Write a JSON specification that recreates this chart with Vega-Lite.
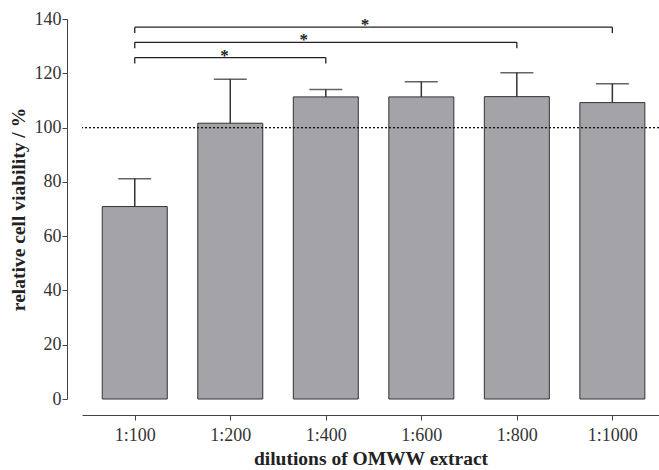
{
  "$schema": "https://vega.github.io/schema/vega-lite/v6.json",
  "autosize": {"type": "none"},
  "padding": {"left": 82, "top": 19, "right": 0, "bottom": 71},
  "width": 577,
  "height": 380,
  "background": "white",
  "config": {
    "view": {"stroke": null},
    "font": "Liberation Serif",
    "axis": {
      "labelFont": "Liberation Serif",
      "titleFont": "Liberation Serif",
      "labelColor": "#333",
      "titleColor": "#222",
      "domainColor": "#444",
      "tickColor": "#444",
      "grid": false
    }
  },
  "datasets": {
    "bars": [
      {"idx": 1, "dilution": "1:100", "mean": 70.9, "upper": 81.1},
      {"idx": 2, "dilution": "1:200", "mean": 101.6, "upper": 117.8},
      {"idx": 3, "dilution": "1:400", "mean": 111.3, "upper": 114.0},
      {"idx": 4, "dilution": "1:600", "mean": 111.3, "upper": 116.9},
      {"idx": 5, "dilution": "1:800", "mean": 111.4, "upper": 120.2},
      {"idx": 6, "dilution": "1:1000", "mean": 109.2, "upper": 116.1}
    ],
    "brackets": [
      {"from": 1, "to": 3, "level": 125.8, "low": 123.6, "starx": 1.94, "star": "*"},
      {"from": 1, "to": 5, "level": 131.4, "low": 129.2, "starx": 2.77, "star": "*"},
      {"from": 1, "to": 6, "level": 137.0, "low": 134.8, "starx": 3.41, "star": "*"}
    ]
  },
  "data": {"name": "bars"},
  "layer": [
    {
      "mark": {"type": "bar", "size": 65, "fill": "#a3a3a8", "stroke": "#333", "strokeWidth": 1},
      "encoding": {
        "x": {
          "field": "idx", "type": "quantitative",
          "scale": {"domain": [0.5, 6.436], "nice": false, "zero": false},
          "axis": {
            "values": [1, 2, 3, 4, 5, 6],
            "labelExpr": "['','1:100','1:200','1:400','1:600','1:800','1:1000'][datum.value]",
            "title": "dilutions of OMWW extract",
            "titleFontSize": 19.5,
            "titleFontWeight": "bold",
            "titlePadding": 5,
            "labelFontSize": 18,
            "labelPadding": 6,
            "tickSize": 5,
            "offset": 16
          }
        },
        "y": {
          "field": "mean", "type": "quantitative",
          "scale": {"domain": [0, 140], "nice": false},
          "axis": {
            "values": [0, 10, 20, 30, 40, 50, 60, 70, 80, 90, 100, 110, 120, 130, 140],
            "labelExpr": "datum.value % 20 === 0 ? datum.label : ''",
            "labelOverlap": false,
            "tickSize": {"condition": {"test": "datum.value % 20 === 0", "value": 5}, "value": 3},
            "labelPadding": 1,
            "labelFontSize": 18,
            "title": "relative cell viability / %",
            "titleFontSize": 19.5,
            "titleFontWeight": "bold",
            "titlePadding": 6,
            "offset": 15
          }
        }
      }
    },
    {
      "mark": {"type": "rule", "color": "#333", "strokeWidth": 1.5},
      "encoding": {
        "x": {"field": "idx", "type": "quantitative"},
        "y": {"field": "mean", "type": "quantitative"},
        "y2": {"field": "upper"}
      }
    },
    {
      "mark": {"type": "tick", "orient": "horizontal", "size": 33, "thickness": 1.5, "color": "#222"},
      "encoding": {
        "x": {"field": "idx", "type": "quantitative"},
        "y": {"field": "upper", "type": "quantitative"}
      }
    },
    {
      "mark": {"type": "rule", "color": "#111", "strokeWidth": 1, "strokeDash": [2, 2]},
      "encoding": {"y": {"datum": 100, "type": "quantitative"}}
    },
    {
      "data": {"name": "brackets"},
      "layer": [
        {
          "mark": {"type": "rule", "color": "#222", "strokeWidth": 1.3},
          "encoding": {
            "x": {"field": "from", "type": "quantitative"},
            "x2": {"field": "to"},
            "y": {"field": "level", "type": "quantitative"}
          }
        },
        {
          "mark": {"type": "rule", "color": "#222", "strokeWidth": 1.3},
          "encoding": {
            "x": {"field": "from", "type": "quantitative"},
            "y": {"field": "level", "type": "quantitative"},
            "y2": {"field": "low"}
          }
        },
        {
          "mark": {"type": "rule", "color": "#222", "strokeWidth": 1.3},
          "encoding": {
            "x": {"field": "to", "type": "quantitative"},
            "y": {"field": "level", "type": "quantitative"},
            "y2": {"field": "low"}
          }
        },
        {
          "mark": {"type": "text", "fontSize": 17, "fontWeight": "bold", "baseline": "alphabetic", "dy": 3, "color": "#222"},
          "encoding": {
            "x": {"field": "starx", "type": "quantitative"},
            "y": {"field": "level", "type": "quantitative"},
            "text": {"field": "star"}
          }
        }
      ]
    }
  ]
}
